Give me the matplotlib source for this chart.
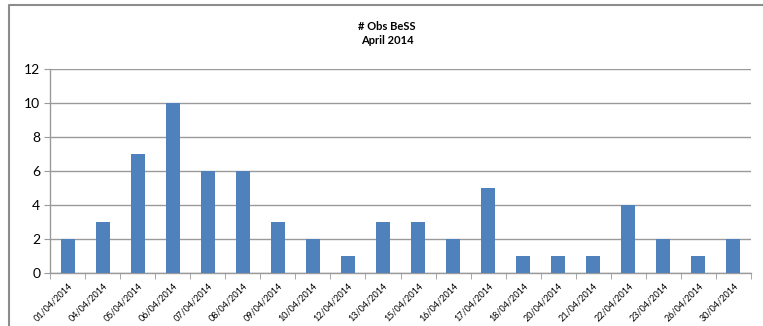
import matplotlib
matplotlib.use("Agg")
import matplotlib.pyplot as plt
from matplotlib.lines import Line2D
import numpy as np

plt.rcParams['font.family'] = ['Lato', 'DejaVu Sans']

# data
dates = ['01/04/2014', '04/04/2014', '05/04/2014', '06/04/2014', '07/04/2014',
         '08/04/2014', '09/04/2014', '10/04/2014', '12/04/2014', '13/04/2014',
         '15/04/2014', '16/04/2014', '17/04/2014', '18/04/2014', '20/04/2014',
         '21/04/2014', '22/04/2014', '23/04/2014', '26/04/2014', '30/04/2014']
obs = [2, 3, 7, 10, 6, 6, 3, 2, 1, 3, 3, 2, 5, 1, 1, 1, 4, 2, 1, 2]
y_ticks = [0, 2, 4, 6, 8, 10, 12]

W, H = 763, 326
fig = plt.figure(figsize=(W / 100, H / 100), dpi=100)

# outer chart frame (left and top edges visible)
fig.add_artist(Line2D([9 / W, 9 / W, 1.0], [0.0, 1 - 5 / H, 1 - 5 / H],
                      transform=fig.transFigure, color='#8c8c8c', lw=1.5))

ax = fig.add_axes([50 / W, 1 - 273 / H, (751 - 50) / W, (273 - 69) / H])

x = np.arange(len(dates))
ax.bar(x, obs, width=0.4, color='#4f81bd', zorder=3)

ax.set_xlim(-0.5, len(dates) - 0.5)
ax.set_ylim(0, 12)
ax.set_yticks(y_ticks)
ax.yaxis.grid(True, color='#9a9a9a', lw=1)
ax.set_axisbelow(True)

for s in ['top', 'right']:
    ax.spines[s].set_visible(False)
for s in ['left', 'bottom']:
    ax.spines[s].set_color('#9a9a9a')
    ax.spines[s].set_linewidth(1)

ax.tick_params(axis='y', length=4, color='#9a9a9a', labelsize=10, pad=3)
ax.set_xticks(x)
ax.set_xticklabels(dates, rotation=45, ha='right', rotation_mode='anchor', fontsize=6.5)
ax.tick_params(axis='x', which='major', length=0, pad=6)
ax.set_xticks(np.arange(len(dates) + 1) - 0.5, minor=True)
ax.tick_params(axis='x', which='minor', length=4, color='#9a9a9a')

fig.text(387 / W, 1 - 27 / H, '# Obs BeSS', ha='center', va='center',
         fontsize=8, fontweight='bold')
fig.text(387 / W, 1 - 41 / H, 'April 2014', ha='center', va='center',
         fontsize=8, fontweight='bold')

fig.savefig('out.png', dpi=100)
